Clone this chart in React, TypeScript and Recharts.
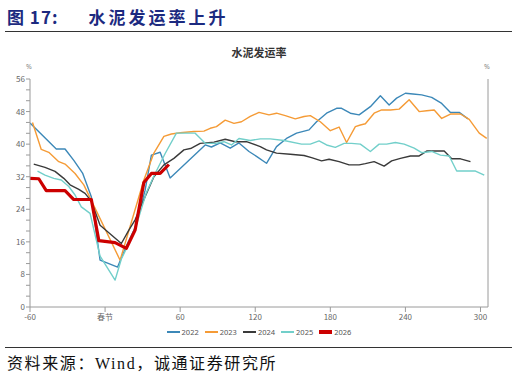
import { LineChart, Line, XAxis, YAxis } from "recharts";

// days relative to Spring Festival, cement shipment rate (%)
const DAYS_2022 = [-60, -39, -32, -25, -18, -11, -4, 10, 17, 24, 32, 37, 44, 52, 80, 85, 92, 100, 107, 115, 121, 129, 137, 145, 153, 163, 169, 177, 185, 189, 196, 203, 212, 220, 227, 233, 240, 246, 253, 261, 269, 276, 283, 290];
const RATE_2022 = [45.2, 38.8, 38.8, 36, 32.9, 27.1, 11.5, 9.8, 15, 19.5, 28.7, 37.3, 38, 31.7, 39.8, 39.3, 40.3, 39, 40.3, 38.2, 37, 35.3, 39.4, 41.4, 42.7, 43.5, 45.5, 47.6, 48.8, 48.8, 47.6, 47.2, 49.2, 51.9, 49.6, 51.3, 52.5, 52.3, 52.1, 51.5, 50, 47.8, 47.8, 46.2];

const DAYS_2023 = [-58, -51, -45, -37, -32, -24, -17, 12, 31, 39, 47, 53, 60, 71, 79, 84, 89, 96, 103, 109, 116, 123, 131, 137, 144, 152, 159, 164, 172, 180, 187, 193, 200, 204, 208, 215, 221, 228, 235, 243, 251, 257, 263, 269, 276, 284, 291, 299, 305];
const RATE_2023 = [45.3, 38.7, 38, 35.7, 35.1, 32.8, 30, 11.5, 31.2, 37.8, 41.9, 42.5, 42.8, 43.1, 43.2, 43.9, 44.3, 45.9, 45.1, 45.5, 46.8, 47.8, 47.2, 47.6, 47, 46.2, 46.8, 47, 45.5, 43.3, 44.2, 40.4, 44.3, 44.7, 45, 47.6, 48.4, 48.4, 48.6, 50.9, 48, 48.2, 48.4, 46.3, 47.4, 47.4, 46.1, 42.7, 41.4];

const DAYS_2024 = [-57, -48, -40, -33, -28, -21, -16, -11, -4, 13, 19, 24, 32, 39, 47, 55, 63, 69, 76, 87, 96, 104, 113, 124, 129, 137, 148, 159, 165, 173, 179, 187, 195, 203, 208, 215, 223, 229, 236, 244, 251, 257, 271, 277, 284, 292];
const RATE_2024 = [35.1, 34.3, 33.3, 31.6, 30, 28.9, 27.9, 26, 20.1, 15.6, 18.9, 21.4, 27.1, 32, 34.9, 36.5, 38.6, 39, 40.2, 40.5, 41.2, 40.6, 40.6, 39.4, 38.6, 37.8, 37.5, 37.2, 36.7, 35.9, 36.3, 35.7, 34.9, 34.9, 35.2, 35.7, 34.6, 35.9, 36.5, 37.1, 37.1, 38.3, 38.3, 36.4, 36.4, 35.7];

const DAYS_2025 = [-54, -48, -41, -35, -29, -24, -19, -12, -4, 8, 13, 23, 33, 40, 48, 57, 72, 80, 88, 95, 101, 107, 116, 124, 132, 143, 157, 164, 171, 177, 184, 191, 197, 204, 212, 219, 225, 232, 239, 247, 253, 261, 268, 275, 281, 296, 303];
const RATE_2025 = [33.4, 32.4, 31.6, 31.2, 29.6, 27.5, 24.6, 23, 12.5, 6.6, 11.8, 18.1, 28.1, 32.8, 37.7, 42.7, 42.7, 40.2, 40.2, 40.6, 39.8, 41.4, 40.9, 41.3, 41.3, 40.9, 40, 40, 40.8, 39.8, 39.2, 40.2, 40.2, 40, 38.2, 40, 40, 40.4, 40, 39, 37.9, 38.2, 37.3, 37.1, 33.4, 33.4, 32.4];

const DAYS_2026 = [-60, -53, -47, -32, -25, -11, -5, 8, 17, 24, 31, 37, 44, 51];
const RATE_2026 = [31.6, 31.5, 28.6, 28.6, 26.4, 26.4, 16.3, 15.8, 14.4, 18.9, 30.6, 32.8, 32.8, 35];

const X_TICKS = [-60, 0, 60, 120, 180, 240, 300];
const Y_TICKS = Array.from({ length: 22 }, (_, i) => (i * 8) / 3);

const toPoints = (days: number[], rates: number[]) =>
  days.map((d, i) => ({ x: d, y: rates[i] }));

const SERIES = [
  { name: "2022", color: "#3C88B8", width: 1.4, data: toPoints(DAYS_2022, RATE_2022) },
  { name: "2023", color: "#F59B36", width: 1.4, data: toPoints(DAYS_2023, RATE_2023) },
  { name: "2024", color: "#3A3A3A", width: 1.4, data: toPoints(DAYS_2024, RATE_2024) },
  { name: "2025", color: "#72CFCA", width: 1.4, data: toPoints(DAYS_2025, RATE_2025) },
  { name: "2026", color: "#CC0000", width: 3.2, data: toPoints(DAYS_2026, RATE_2026) },
];

const AXIS = "#9a9a9a";
const TICK_FONT = { fontSize: 8, fill: "#666", fontFamily: "'Noto Sans CJK SC', sans-serif" };

/* eslint-disable @typescript-eslint/no-explicit-any */
const YTick = ({ x, y, payload, textAnchor }: any) => {
  const v = payload.value;
  if (Math.abs(v / 8 - Math.round(v / 8)) > 0.01) return null;
  return (
    <text x={x} y={y} dy={3} textAnchor={textAnchor} {...TICK_FONT}>
      {Math.round(v)}
    </text>
  );
};
/* eslint-enable @typescript-eslint/no-explicit-any */

export default function App() {
  return (
    <div
      style={{
        position: "fixed",
        left: 0,
        top: 0,
        width: 518,
        height: 379,
        background: "#fff",
        overflow: "hidden",
      }}
    >
      <div
        style={{
          position: "absolute",
          left: 7,
          top: 5,
          fontFamily: "'Noto Sans CJK SC', serif",
          fontWeight: 700,
          fontSize: 17,
          color: "#1c2a80",
          whiteSpace: "nowrap",
          lineHeight: "24px",
        }}
      >
        <span style={{ letterSpacing: 1 }}>图 17:</span>
        <span style={{ marginLeft: 30, letterSpacing: 3 }}>水泥发运率上升</span>
      </div>
      <div style={{ position: "absolute", left: 5, top: 31, width: 507, height: 1, background: "#333" }} />

      <div
        style={{
          position: "absolute",
          left: 0,
          width: 518,
          top: 44,
          textAlign: "center",
          fontFamily: "'Noto Sans CJK SC', sans-serif",
          fontWeight: 700,
          fontSize: 11,
          color: "#333",
        }}
      >
        水泥发运率
      </div>
      <div style={{ position: "absolute", left: 26, top: 62, fontSize: 7, color: "#888", fontFamily: "'Noto Sans', sans-serif" }}>%</div>
      <div style={{ position: "absolute", left: 484, top: 62, fontSize: 7, color: "#888", fontFamily: "'Noto Sans', sans-serif" }}>%</div>

      <div style={{ position: "absolute", left: 0, top: 0 }}>
        <LineChart width={518} height={379} margin={{ top: 79, right: 0, bottom: 42, left: 0 }}>
          <XAxis
            dataKey="x"
            type="number"
            domain={[-60, 306]}
            ticks={X_TICKS}
            interval={0}
            allowDataOverflow
            height={30}
            stroke={AXIS}
            tickSize={5}
            tickMargin={2}
            tick={TICK_FONT}
            tickFormatter={(v: number) => (v === 0 ? "春节" : String(v))}
          />
          <YAxis
            yAxisId="left"
            domain={[0, 56]}
            ticks={Y_TICKS}
            interval={0}
            width={30}
            stroke={AXIS}
            tickSize={4}
            tickMargin={1}
            tick={<YTick />}
          />
          <YAxis
            yAxisId="right"
            orientation="right"
            domain={[0, 56]}
            ticks={Y_TICKS}
            interval={0}
            width={30}
            stroke={AXIS}
            tickSize={4}
            tickMargin={1}
            tick={<YTick />}
          />
          {SERIES.map((s) => (
            <Line
              key={s.name}
              yAxisId="left"
              data={s.data}
              dataKey="y"
              name={s.name}
              type="linear"
              stroke={s.color}
              strokeWidth={s.width}
              strokeLinejoin="round"
              dot={false}
              isAnimationActive={false}
            />
          ))}
        </LineChart>
      </div>

      <div
        style={{
          position: "absolute",
          left: 0,
          width: 518,
          top: 327,
          display: "flex",
          justifyContent: "center",
          gap: 6,
          fontFamily: "'Noto Sans', sans-serif",
          fontSize: 7.5,
          color: "#555",
          lineHeight: "10px",
        }}
      >
        {SERIES.map((s) => (
          <div key={s.name} style={{ display: "flex", alignItems: "center", gap: 2 }}>
            <span
              style={{
                display: "inline-block",
                width: 13,
                height: s.name === "2026" ? 4 : 1.5,
                background: s.color,
              }}
            />
            <span>{s.name}</span>
          </div>
        ))}
      </div>

      <div style={{ position: "absolute", left: 5, top: 347, width: 507, height: 1, background: "#333" }} />
      <div
        style={{
          position: "absolute",
          left: 7,
          top: 353,
          fontFamily: "'Liberation Serif', 'Noto Sans CJK SC', serif",
          fontSize: 16,
          color: "#111",
          whiteSpace: "nowrap",
          lineHeight: "22px",
          letterSpacing: 1.6,
        }}
      >
        资料来源：Wind，诚通证券研究所
      </div>
    </div>
  );
}
